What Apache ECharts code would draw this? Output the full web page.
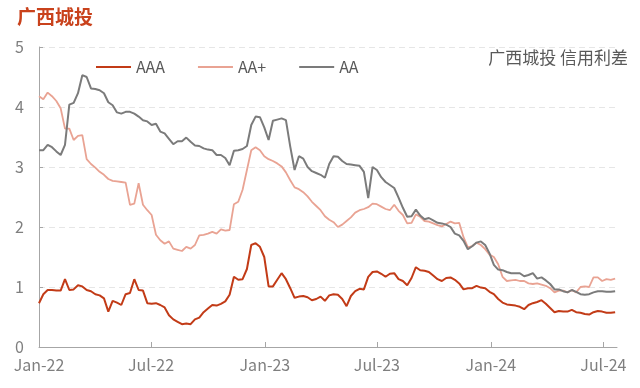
<!DOCTYPE html>
<html>
<head>
<meta charset="utf-8">
<script src="https://cdn.jsdelivr.net/npm/echarts@6/dist/echarts.min.js"></script>
<style>
html,body{margin:0;padding:0;background:#fff;}
#chart{width:640px;height:388px;}
</style>
</head>
<body>
<div id="chart"></div>
<script>
// Weekly observations starting 2022-01-01
const firstWeek = '2022-01-01';
const tickDates = ['2022-01-01','2022-07-01','2023-01-01','2023-07-01','2024-01-01','2024-07-01'];
const tickLabels = ['Jan-22','Jul-22','Jan-23','Jul-23','Jan-24','Jul-24'];
const seriesNames = ['AAA','AA+','AA'];

const AAA = [0.73,0.88,0.95,0.95,0.94,0.94,1.13,0.95,0.96,1.03,1.01,0.95,0.93,0.88,0.86,0.81,0.59,0.77,0.74,0.70,
0.88,0.90,1.13,0.95,0.94,0.73,0.72,0.73,0.70,0.66,0.53,0.46,0.42,0.38,0.39,0.38,0.46,0.49,0.58,0.64,
0.70,0.69,0.72,0.76,0.87,1.17,1.12,1.13,1.30,1.70,1.73,1.67,1.50,1.01,1.01,1.12,1.23,1.13,0.98,0.82,
0.84,0.85,0.83,0.78,0.80,0.84,0.77,0.86,0.88,0.87,0.80,0.68,0.85,0.93,0.97,0.96,1.17,1.25,1.26,1.22,
1.17,1.22,1.23,1.13,1.10,1.03,1.15,1.33,1.28,1.27,1.25,1.19,1.13,1.10,1.15,1.16,1.12,1.06,0.96,0.98,
0.98,1.02,0.99,0.98,0.92,0.88,0.80,0.74,0.71,0.70,0.69,0.67,0.63,0.70,0.73,0.75,0.78,0.72,0.65,0.58,
0.60,0.59,0.59,0.62,0.58,0.57,0.55,0.54,0.58,0.60,0.59,0.57,0.57,0.58];

const AAplus = [4.18,4.13,4.24,4.18,4.10,3.98,3.64,3.64,3.45,3.52,3.53,3.13,3.05,2.99,2.92,2.87,2.80,2.77,2.76,2.75,
2.74,2.37,2.39,2.73,2.37,2.28,2.20,1.87,1.78,1.72,1.76,1.64,1.62,1.60,1.67,1.64,1.70,1.86,1.87,1.89,
1.92,1.89,1.96,1.94,1.95,2.38,2.42,2.62,2.95,3.28,3.33,3.28,3.18,3.13,3.10,3.06,3.01,2.91,2.78,2.66,
2.63,2.58,2.51,2.42,2.35,2.28,2.18,2.12,2.08,2.00,2.04,2.10,2.16,2.24,2.28,2.30,2.33,2.39,2.38,2.34,
2.30,2.28,2.37,2.27,2.20,2.06,2.07,2.21,2.17,2.10,2.09,2.06,2.03,2.01,2.05,2.09,2.06,2.07,1.83,1.66,
1.68,1.74,1.70,1.63,1.54,1.50,1.38,1.17,1.10,1.11,1.12,1.10,1.10,1.06,1.05,1.06,1.04,1.02,0.98,0.91,
0.94,0.94,0.91,0.95,0.91,1.00,1.01,1.00,1.16,1.16,1.10,1.13,1.12,1.14];

const AA = [3.28,3.28,3.37,3.33,3.26,3.20,3.37,4.04,4.07,4.23,4.53,4.50,4.31,4.30,4.28,4.23,4.08,4.03,3.91,3.89,
3.92,3.92,3.89,3.84,3.78,3.76,3.70,3.72,3.59,3.56,3.47,3.38,3.43,3.43,3.49,3.42,3.36,3.35,3.31,3.29,
3.28,3.20,3.20,3.15,3.03,3.27,3.28,3.30,3.35,3.70,3.84,3.83,3.66,3.45,3.77,3.79,3.81,3.78,3.34,2.95,
3.18,3.14,3.00,2.93,2.90,2.87,2.82,3.05,3.18,3.17,3.10,3.05,3.04,3.03,3.02,2.92,2.48,3.00,2.95,2.83,
2.75,2.70,2.65,2.49,2.32,2.17,2.18,2.29,2.19,2.13,2.15,2.11,2.07,2.06,2.04,2.00,1.89,1.86,1.77,1.63,
1.68,1.74,1.76,1.70,1.56,1.37,1.29,1.28,1.25,1.23,1.23,1.23,1.18,1.20,1.23,1.14,1.16,1.11,1.05,0.96,
0.96,0.93,0.91,0.95,0.92,0.88,0.87,0.88,0.91,0.93,0.93,0.92,0.92,0.93];

const DAY = 86400000;
function utc(s){ const p = s.split('-').map(Number); return Date.UTC(p[0], p[1]-1, p[2]); }
const t0 = utc(firstWeek);
const weeks = AAA.map((_, i) => t0 + i * 7 * DAY);
const tickValues = tickDates.map(utc);
const pair = arr => arr.map((v, i) => [weeks[i], v]);

const FONT = '"Noto Sans CJK SC", "Noto Sans", sans-serif';
const chart = echarts.init(document.getElementById('chart'), null, {renderer: 'canvas'});
chart.setOption({
  animation: false,
  backgroundColor: '#ffffff',
  textStyle: {fontFamily: FONT},
  title: [
    {text: '广西城投', left: 12, top: 2,
     textStyle: {color: '#C9421C', fontSize: 19, fontWeight: 'bold', fontFamily: FONT}},
    {text: '广西城投 信用利差', right: 7, top: 44,
     textStyle: {color: '#595959', fontSize: 17, fontWeight: 'normal', fontFamily: FONT}}
  ],
  legend: {
    left: 91, top: 54,
    itemWidth: 35, itemHeight: 2, itemGap: 33, icon: 'rect',
    textStyle: {color: '#595959', fontSize: 16, fontFamily: FONT},
    data: seriesNames
  },
  grid: {left: 39, right: 23, top: 47, bottom: 41},
  xAxis: {
    type: 'value',
    min: t0, max: t0 + 934 * DAY,
    axisLine: {show: true, lineStyle: {color: '#a6a6a6', width: 1}},
    axisTick: {show: true, inside: true, length: 5, lineStyle: {color: '#a6a6a6'}, customValues: tickValues},
    axisLabel: {
      customValues: tickValues,
      showMinLabel: true, showMaxLabel: true,
      color: '#7f7f7f', fontSize: 16, margin: 10, fontFamily: FONT,
      formatter: function (v) {
        const k = tickValues.indexOf(v);
        return k >= 0 ? tickLabels[k] : '';
      }
    },
    splitLine: {show: false}
  },
  yAxis: {
    type: 'value', min: 0, max: 5, interval: 1,
    axisLine: {show: true, lineStyle: {color: '#a6a6a6', width: 1}},
    axisTick: {show: true, inside: true, length: 4, lineStyle: {color: '#a6a6a6'}},
    axisLabel: {color: '#7f7f7f', fontSize: 16, margin: 15, fontFamily: FONT},
    splitLine: {show: true, lineStyle: {color: '#e6e6e6', type: [6, 4], width: 1}}
  },
  series: [
    {name: 'AAA', type: 'line', data: pair(AAA), showSymbol: false, symbol: 'none',
     lineStyle: {color: '#C23B17', width: 2}, itemStyle: {color: '#C23B17'}, z: 5},
    {name: 'AA+', type: 'line', data: pair(AAplus), showSymbol: false, symbol: 'none',
     lineStyle: {color: '#E9A393', width: 1.8}, itemStyle: {color: '#E9A393'}, z: 3},
    {name: 'AA', type: 'line', data: pair(AA), showSymbol: false, symbol: 'none',
     lineStyle: {color: '#7B7B7B', width: 2}, itemStyle: {color: '#7B7B7B'}, z: 4}
  ]
});
</script>
</body>
</html>
